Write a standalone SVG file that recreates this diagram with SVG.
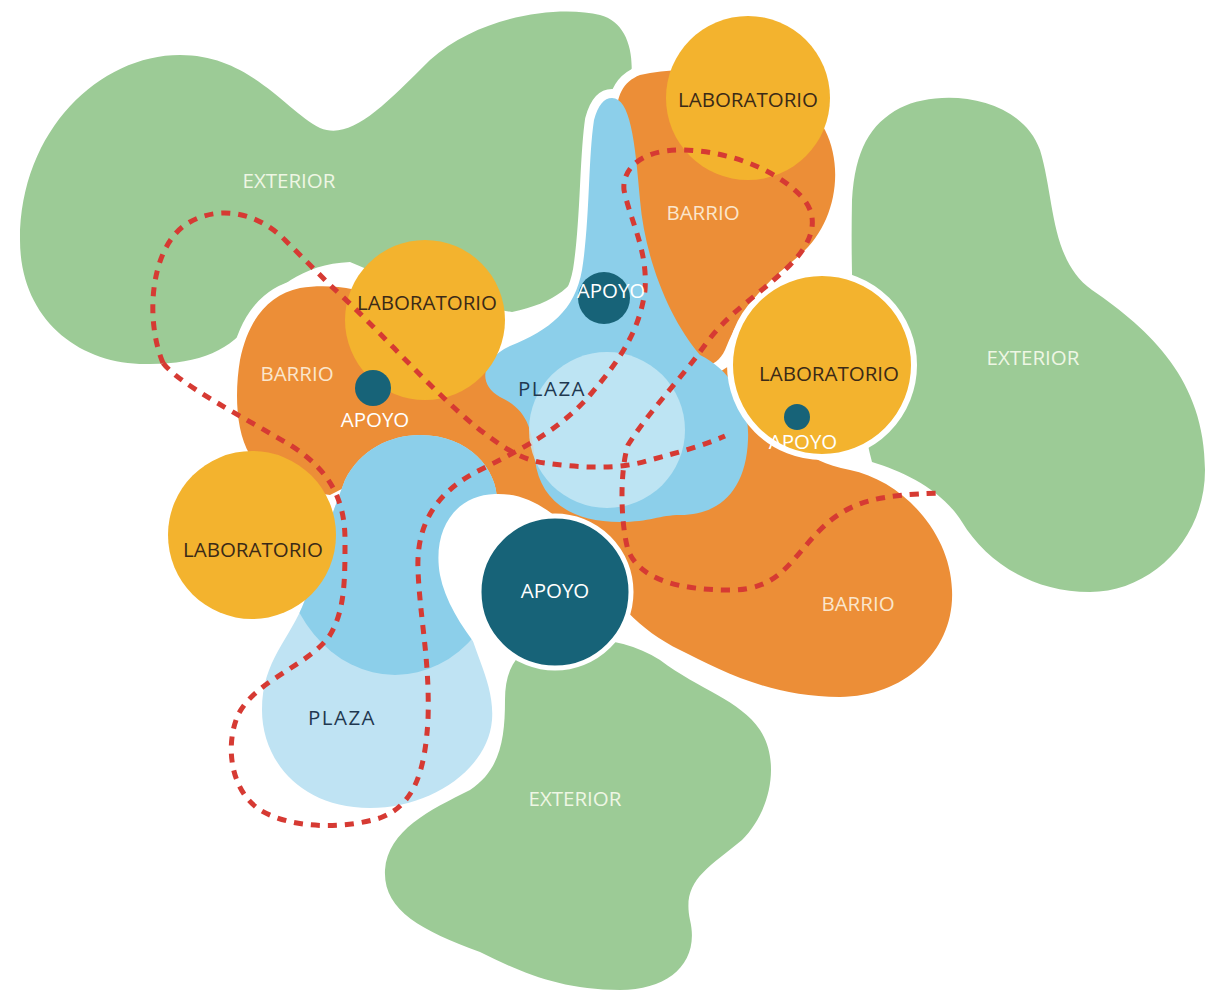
<svg xmlns="http://www.w3.org/2000/svg" width="1205" height="991" viewBox="0 0 1205 991">
<defs>
<style>
.green{fill:#9ccb96}
.orange{fill:#ec8e37}
.yellow{fill:#f3b32e}
.blue{fill:#8ccfea}
.lblue{fill:#bfe3f3}
.teal{fill:#176378}
.halo{fill:#ffffff;stroke:#ffffff;stroke-width:18;stroke-linejoin:round}
.dash{fill:none;stroke:#d63a33;stroke-width:5;stroke-dasharray:9 8}
text{font-family:"Open Sans","Liberation Sans",sans-serif;font-size:20.5px;text-anchor:middle;dominant-baseline:central}
.tExt{fill:#eef6e4}
.tBar{fill:#fbe6cc}
.tLab{fill:#3b2a17}
.tPla{fill:#1f3850;letter-spacing:1.5px}
.tApo{fill:#ffffff}
</style>
<path id="pBarL" d="M 300,288 C 350,280 400,300 440,330 C 470,350 500,370 520,390 L 560,420 L 600,480 L 640,540 L 600,560 C 570,540 545,520 520,510 C 490,495 470,470 440,465 C 400,460 360,480 330,495 C 300,490 270,480 250,455 C 235,430 235,390 240,360 C 248,320 268,295 300,288 Z"/>
<path id="pBarT" d="M 640,75 C 700,60 800,80 825,130 C 845,170 835,225 800,255 C 770,280 745,300 725,350 C 715,372 690,372 675,340 C 650,290 630,220 620,160 C 612,110 615,85 640,75 Z"/>
<path id="pBarR" d="M 620,470 C 650,430 700,380 740,360 L 780,400 C 790,440 800,460 850,470 C 900,480 950,530 952,590 C 955,650 905,697 840,697 C 770,697 720,670 680,650 C 640,630 610,600 595,560 C 585,520 600,490 620,470 Z"/>
<path id="pPlaC" d="M 612,98 C 630,98 635,140 640,200 C 645,260 670,320 700,355 C 730,370 750,400 748,440 C 746,490 720,515 680,515 C 660,515 650,522 620,522 C 570,522 540,500 535,460 C 532,430 528,410 500,397 C 478,385 480,360 510,346 C 550,330 575,310 582,270 C 590,220 588,160 594,120 C 598,105 604,98 612,98 Z"/>
<path id="pPlaB" d="M 420,435 C 470,435 497,470 497,500 C 497,540 462,565 466,610 C 470,650 495,680 492,720 C 488,770 430,808 370,808 C 300,808 262,760 262,710 C 262,660 290,640 305,600 C 315,560 330,520 345,480 C 360,450 390,435 420,435 Z"/>
<clipPath id="cPlaB"><use href="#pPlaB"/></clipPath>
</defs>

<rect width="1205" height="991" fill="#ffffff"/>

<g id="exterior-nw">
<path class="green" d="M 150,364 C 80,366 20,320 20,240 C 20,130 100,55 180,55 C 250,55 285,110 320,128 C 350,140 380,110 430,60 C 480,15 560,5 600,15 C 640,25 640,90 612,130 C 588,165 586,200 586,240 C 586,280 560,302 512,312 L 440,300 L 350,262 C 300,264 270,292 252,320 C 232,350 200,364 150,364 Z"/>
<text class="tExt" x="289" y="180">EXTERIOR</text>
</g>
<g id="exterior-e">
<path class="green" d="M 900,108 C 940,88 1020,95 1040,150 C 1055,200 1050,260 1092,290 C 1150,330 1205,380 1205,470 C 1205,540 1150,592 1090,592 C 1030,592 985,560 962,522 C 942,490 905,472 872,462 C 856,400 850,300 852,200 C 855,150 870,124 900,108 Z"/>
<text class="tExt" x="1033" y="357">EXTERIOR</text>
</g>
<g id="exterior-s">
<path class="green" d="M 520,655 C 560,630 620,635 660,660 C 700,690 740,700 760,730 C 780,760 772,810 742,840 C 705,870 682,882 690,920 C 700,962 670,990 620,990 C 560,990 520,972 480,952 C 420,930 383,910 385,870 C 388,830 430,810 470,790 C 500,770 505,740 505,700 C 505,680 510,665 520,655 Z"/>
<text class="tExt" x="575" y="798">EXTERIOR</text>
</g>

<g id="halos">
<use href="#pBarL" class="halo"/>
<use href="#pBarT" class="halo"/>
<use href="#pBarR" class="halo"/>
<use href="#pPlaC" class="halo"/>
<use href="#pPlaB" class="halo"/>
<circle class="halo" cx="748" cy="98" r="82"/>
</g>

<g id="barrio-w"><use href="#pBarL" class="orange"/></g>
<g id="barrio-n"><use href="#pBarT" class="orange"/></g>
<g id="barrio-se"><use href="#pBarR" class="orange"/></g>

<g id="plaza-c">
<use href="#pPlaC" class="blue"/>
<circle cx="607" cy="430" r="78" fill="#c6e7f5" opacity="0.85"/>
</g>
<g id="plaza-sw">
<use href="#pPlaB" class="lblue"/>
<ellipse class="blue" cx="395" cy="535" rx="115" ry="140" clip-path="url(#cPlaB)"/>
</g>

<g id="apoyo-gap">
<path fill="#ffffff" d="M 440,575 C 432,530 455,495 495,494 C 522,493 542,505 560,520 L 575,600 L 480,650 C 460,625 445,600 440,575 Z"/>
</g>

<g id="lab-n"><circle class="yellow" cx="748" cy="98" r="82"/></g>
<g id="lab-w"><circle class="yellow" cx="425" cy="320" r="80"/></g>
<g id="lab-e"><circle class="yellow" cx="822" cy="365" r="92" stroke="#ffffff" stroke-width="6"/></g>
<g id="lab-sw"><circle class="yellow" cx="252" cy="535" r="84"/></g>

<g id="apoyo-big"><circle class="teal" cx="555" cy="592" r="76" stroke="#ffffff" stroke-width="5"/></g>
<g id="apoyo-n"><circle class="teal" cx="604" cy="298" r="26"/></g>
<g id="apoyo-w"><circle class="teal" cx="373" cy="388" r="18"/></g>
<g id="apoyo-e"><circle class="teal" cx="797" cy="417" r="13"/></g>

<g id="connectors">
<path class="dash" d="M 163,363 C 145,320 150,250 185,225 C 215,205 255,210 285,240 L 330,285 C 380,330 430,390 480,430 C 500,445 520,460 545,463 C 580,468 620,470 650,460 C 680,452 705,445 725,436"/>
<path class="dash" d="M 163,363 C 180,385 240,415 290,445 C 330,470 345,500 345,540 C 345,580 345,610 330,635 C 310,665 255,680 238,715 C 225,745 230,790 260,810 C 290,828 340,830 380,818 C 415,805 425,770 428,720 C 430,660 420,620 418,570 C 416,520 440,490 480,470 C 520,450 560,430 590,395 C 620,360 640,330 645,290 C 648,250 630,220 624,190 C 622,170 640,150 680,150 C 720,150 770,165 800,195 C 820,215 815,240 790,265 C 760,295 730,310 705,345 C 680,380 650,410 628,445 C 620,470 620,520 628,550 C 640,580 680,590 730,590 C 780,590 790,560 820,530 C 850,500 880,495 940,493"/>
</g>

<g id="labels">
<text class="tBar" x="703" y="212">BARRIO</text>
<text class="tBar" x="297" y="373">BARRIO</text>
<text class="tBar" x="858" y="603">BARRIO</text>
<text class="tLab" x="748" y="99">LABORATORIO</text>
<text class="tLab" x="427" y="302">LABORATORIO</text>
<text class="tLab" x="829" y="373">LABORATORIO</text>
<text class="tLab" x="253" y="549">LABORATORIO</text>
<text class="tPla" x="552" y="388">PLAZA</text>
<text class="tPla" x="342" y="717">PLAZA</text>
<text class="tApo" x="555" y="590">APOYO</text>
<text class="tApo" x="611" y="290">APOYO</text>
<text class="tApo" x="375" y="419">APOYO</text>
<text class="tApo" x="803" y="441">APOYO</text>
</g>
</svg>
